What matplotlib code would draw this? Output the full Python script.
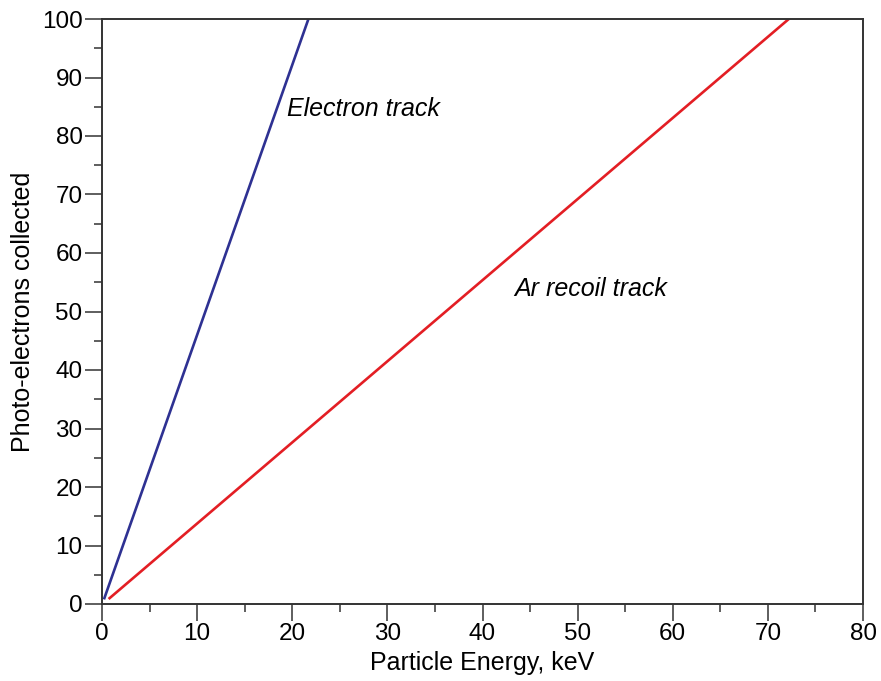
import matplotlib.pyplot as plt
from matplotlib.ticker import MultipleLocator

plt.rcParams['font.family'] = ['Liberation Sans', 'DejaVu Sans']

# track endpoints: energy (keV) vs photo-electrons
electron_energy = [0.25, 21.7]
electron_pe = [1, 100]
recoil_energy = [0.8, 72.2]
recoil_pe = [1, 100]

fig = plt.figure(figsize=(8.81, 6.81), dpi=100)
ax = fig.add_axes([102 / 881, 77 / 681, 761 / 881, 585 / 681])

ax.plot(electron_energy, electron_pe, color='#2e3192', lw=1.9)
ax.plot(recoil_energy, recoil_pe, color='#e31e24', lw=1.9)

ax.text(19.4, 84.6, 'Electron track', style='italic', fontsize=18, va='center')
ax.text(43.3, 53.8, 'Ar recoil track', style='italic', fontsize=18, va='center')

ax.set_xlim(0, 80)
ax.set_ylim(0, 100)
ax.xaxis.set_major_locator(MultipleLocator(10))
ax.xaxis.set_minor_locator(MultipleLocator(5))
ax.yaxis.set_major_locator(MultipleLocator(10))
ax.yaxis.set_minor_locator(MultipleLocator(5))
ax.tick_params(which='major', direction='out', length=12, width=1.1, color='#333333', labelsize=17.5, pad=2)
ax.tick_params(which='minor', direction='out', length=5.5, width=1.1, color='#333333')
for s in ax.spines.values():
    s.set_color('#333333')
    s.set_linewidth(1.4)

ax.set_xlabel('Particle Energy, keV', fontsize=18, labelpad=4)
ax.set_ylabel('Photo-electrons collected', fontsize=18, labelpad=5)

fig.savefig('out.png', dpi=100)
